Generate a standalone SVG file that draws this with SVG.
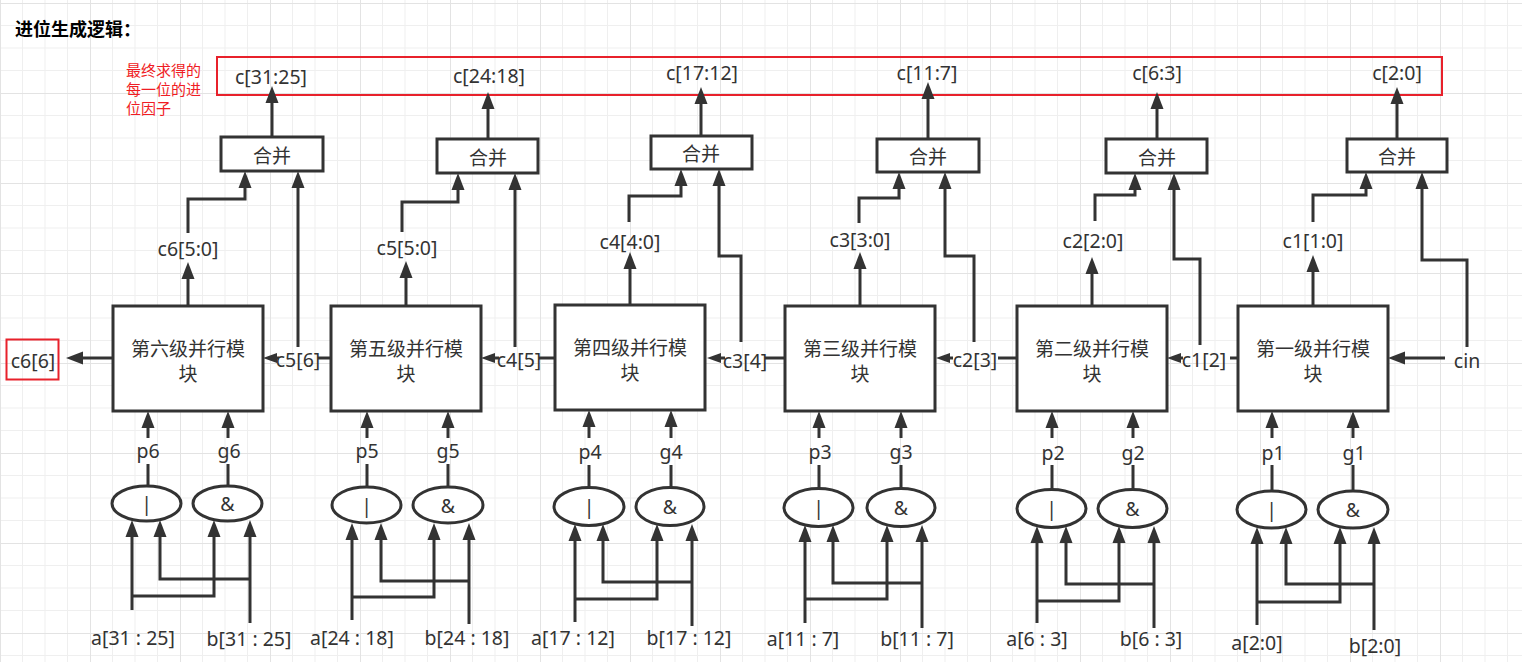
<svg xmlns="http://www.w3.org/2000/svg" width="1522" height="662" viewBox="0 0 1522 662">
<defs>
<style>
.ln{fill:none;stroke:#333;stroke-width:3}
.ah{fill:none;stroke:#333;stroke-width:3;marker-end:url(#ah)}
.as{fill:none;stroke:#333;stroke-width:3;marker-end:url(#as)}
.box{fill:#fff;stroke:#333;stroke-width:3}
.t{font-family:"Noto Sans","Noto Sans CJK SC",sans-serif;font-size:19.5px;fill:#333;text-anchor:middle;dominant-baseline:central}
.cn{font-family:"Noto Sans CJK SC","Noto Sans",sans-serif;font-size:19px;fill:#333;text-anchor:middle;dominant-baseline:central}
.red{fill:none;stroke:#e8212b;stroke-width:2}
</style>
<marker id="ah" markerUnits="userSpaceOnUse" markerWidth="18" markerHeight="14" viewBox="0 -7 18 14" refX="0" refY="0" orient="auto" overflow="visible"><path d="M0,-6.5L17,0L0,6.5Z" fill="#333"/></marker>
<marker id="as" markerUnits="userSpaceOnUse" markerWidth="15" markerHeight="12" viewBox="0 -6 15 12" refX="0" refY="0" orient="auto" overflow="visible"><path d="M0,-5L14,0L0,5Z" fill="#333"/></marker>
<pattern id="grid" width="90" height="90" patternUnits="userSpaceOnUse" x="0" y="3">
<path d="M22.5,0V90M45,0V90M67.5,0V90M0,22.5H90M0,45H90M0,67.5H90" stroke="#efefef" stroke-width="1" fill="none"/>
<path d="M0.5,0V90M0,0.5H90" stroke="#e3e3e3" stroke-width="1" fill="none"/>
</pattern>
</defs>
<rect width="1522" height="662" fill="#fff"/>
<rect width="1522" height="662" fill="url(#grid)"/>

<g id="title"><text x="15" y="28" font-family="Noto Sans CJK SC,sans-serif" font-size="18" font-weight="bold" fill="#000" dominant-baseline="central">进位生成逻辑：</text></g>
<g id="note" font-family="Noto Sans CJK SC,sans-serif" font-size="15" fill="#f01c24">
<text x="126" y="69" dominant-baseline="central">最终求得的</text>
<text x="126" y="88" dominant-baseline="central">每一位的进</text>
<text x="126" y="107" dominant-baseline="central">位因子</text>
</g>
<g id="result-box"><rect class="red" x="217" y="57" width="1225" height="38"/></g>

<g id="connectors">
<!-- stage 6 -->
<path class="ah" d="M272,137V103"/>
<path class="ah" d="M188,306V279"/>
<path class="ah" d="M188,233V199H245V188"/>
<path class="ah" d="M298,347V188"/>
<path class="ln" d="M331,358H318"/>
<path class="as" d="M279,358H277"/>
<path class="ah" d="M113,358H83"/>
<path class="ah" d="M148,438V428"/>
<path class="ah" d="M228,438V428"/>
<path class="ln" d="M148,486V464M228,486V464"/>
<path class="ah" d="M132,610V537"/>
<path class="ah" d="M132,596H214V537"/>
<path class="ah" d="M250,623V537"/>
<path class="ah" d="M250,579H160V537"/>
<!-- stage 5 -->
<path class="ah" d="M488,139V109"/>
<path class="ah" d="M406,306V278"/>
<path class="ah" d="M402,232V202H458V190"/>
<path class="ah" d="M515,347V190"/>
<path class="ln" d="M555,358H539"/>
<path class="as" d="M499,358H495"/>
<path class="ah" d="M367,438V428"/>
<path class="ah" d="M448,438V428"/>
<path class="ln" d="M367,487V464M448,487V464"/>
<path class="ah" d="M352,620V540"/>
<path class="ah" d="M352,597H434V540"/>
<path class="ah" d="M469,624V540"/>
<path class="ah" d="M469,581H381V540"/>
<!-- stage 4 -->
<path class="ah" d="M701,136V104"/>
<path class="ah" d="M630,305V269"/>
<path class="ah" d="M629,222V196H681V186"/>
<path class="ah" d="M741,342V256H719V186"/>
<path class="ln" d="M785,358H765"/>
<path class="as" d="M725,358H721"/>
<path class="ah" d="M589,438V427"/>
<path class="ah" d="M671,438V427"/>
<path class="ln" d="M589,487V465M671,487V465"/>
<path class="ah" d="M575,622V541"/>
<path class="ah" d="M575,599H657V541"/>
<path class="ah" d="M692,626V541"/>
<path class="ah" d="M692,582H603V541"/>
<!-- stage 3 -->
<path class="ah" d="M928,139V99"/>
<path class="ah" d="M860,306V269"/>
<path class="ah" d="M859,223V198H899V189"/>
<path class="ah" d="M974,342V256H945V189"/>
<path class="ln" d="M1017,358H998"/>
<path class="as" d="M953,358H950"/>
<path class="ah" d="M819,438V428"/>
<path class="ah" d="M901,438V428"/>
<path class="ln" d="M819,488V465M901,488V465"/>
<path class="ah" d="M805,623V542"/>
<path class="ah" d="M805,599H887V542"/>
<path class="ah" d="M922,628V542"/>
<path class="ah" d="M922,583H833V542"/>
<!-- stage 2 -->
<path class="ah" d="M1157,139V109"/>
<path class="ah" d="M1092,306V274"/>
<path class="ah" d="M1095,221V195H1135V190"/>
<path class="ah" d="M1200,345V259H1174V190"/>
<path class="ln" d="M1238,358H1230"/>
<path class="as" d="M1183,358H1181"/>
<path class="ah" d="M1052,438V428"/>
<path class="ah" d="M1133,438V428"/>
<path class="ln" d="M1052,489V465M1133,489V465"/>
<path class="ah" d="M1037,623V543"/>
<path class="ah" d="M1037,601H1119V543"/>
<path class="ah" d="M1154,628V543"/>
<path class="ah" d="M1154,584H1066V543"/>
<!-- stage 1 -->
<path class="ah" d="M1397,139V104"/>
<path class="ah" d="M1313,306V272"/>
<path class="ah" d="M1313,222V195H1366V189"/>
<path class="ah" d="M1467,347V260H1422V189"/>
<path class="ah" d="M1445,358H1405"/>
<path class="ah" d="M1272,438V428"/>
<path class="ah" d="M1353,438V428"/>
<path class="ln" d="M1272,491V465M1353,491V465"/>
<path class="ah" d="M1257,625V544"/>
<path class="ah" d="M1257,602H1340V544"/>
<path class="ah" d="M1374,630V544"/>
<path class="ah" d="M1374,584H1286V544"/>
</g>

<g id="top-labels">
<text class="t" x="271" y="76">c[31:25]</text>
<text class="t" x="489" y="75">c[24:18]</text>
<text class="t" x="702" y="72">c[17:12]</text>
<text class="t" x="927" y="72">c[11:7]</text>
<text class="t" x="1157" y="72">c[6:3]</text>
<text class="t" x="1397" y="72">c[2:0]</text>
</g>

<g id="merge6"><rect class="box" x="221" y="137" width="102" height="34"/><text class="cn" x="272" y="154">合并</text></g>
<g id="merge5"><rect class="box" x="437" y="139" width="101" height="34"/><text class="cn" x="488" y="156">合并</text></g>
<g id="merge4"><rect class="box" x="651" y="136" width="101" height="33"/><text class="cn" x="701" y="152.5">合并</text></g>
<g id="merge3"><rect class="box" x="877" y="139" width="102" height="33"/><text class="cn" x="928" y="155.5">合并</text></g>
<g id="merge2"><rect class="box" x="1106" y="139" width="101" height="34"/><text class="cn" x="1157" y="156">合并</text></g>
<g id="merge1"><rect class="box" x="1347" y="139" width="100" height="33"/><text class="cn" x="1397" y="155.5">合并</text></g>

<g id="out-labels">
<text class="t" x="188" y="248">c6[5:0]</text>
<text class="t" x="407" y="247">c5[5:0]</text>
<text class="t" x="630" y="241">c4[4:0]</text>
<text class="t" x="860" y="239">c3[3:0]</text>
<text class="t" x="1093" y="240">c2[2:0]</text>
<text class="t" x="1313" y="240">c1[1:0]</text>
</g>

<g id="carry-labels">
<text class="t" x="298" y="359">c5[6]</text>
<text class="t" x="519" y="359">c4[5]</text>
<text class="t" x="745" y="360">c3[4]</text>
<text class="t" x="975" y="359">c2[3]</text>
<text class="t" x="1204" y="359">c1[2]</text>
<text class="t" x="1467" y="360">cin</text>
</g>

<g id="c6-6"><rect class="red" x="6.5" y="339.5" width="52" height="40"/><text class="t" x="33" y="360">c6[6]</text></g>

<g id="block6"><rect class="box" x="113" y="306" width="150" height="105"/><text class="cn" x="188" y="347">第六级并行模</text><text class="cn" x="188" y="372">块</text></g>
<g id="block5"><rect class="box" x="331" y="306" width="150" height="105"/><text class="cn" x="406" y="347">第五级并行模</text><text class="cn" x="406" y="372">块</text></g>
<g id="block4"><rect class="box" x="555" y="305" width="150" height="105"/><text class="cn" x="630" y="346">第四级并行模</text><text class="cn" x="630" y="371">块</text></g>
<g id="block3"><rect class="box" x="785" y="306" width="150" height="105"/><text class="cn" x="860" y="347">第三级并行模</text><text class="cn" x="860" y="372">块</text></g>
<g id="block2"><rect class="box" x="1017" y="306" width="150" height="105"/><text class="cn" x="1092" y="347">第二级并行模</text><text class="cn" x="1092" y="372">块</text></g>
<g id="block1"><rect class="box" x="1238" y="306" width="150" height="105"/><text class="cn" x="1313" y="347">第一级并行模</text><text class="cn" x="1313" y="372">块</text></g>

<g id="pg-labels">
<text class="t" x="148" y="450">p6</text><text class="t" x="229" y="450">g6</text>
<text class="t" x="367" y="450">p5</text><text class="t" x="448" y="450">g5</text>
<text class="t" x="590" y="451">p4</text><text class="t" x="671" y="451">g4</text>
<text class="t" x="820" y="451">p3</text><text class="t" x="901" y="451">g3</text>
<text class="t" x="1053" y="452">p2</text><text class="t" x="1133" y="452">g2</text>
<text class="t" x="1273" y="452">p1</text><text class="t" x="1354" y="452">g1</text>
</g>

<g id="or6"><ellipse class="box" cx="146.5" cy="503.5" rx="34.5" ry="17.5"/><text class="t" x="146.5" y="503.5">|</text></g>
<g id="and6"><ellipse class="box" cx="227.5" cy="503.5" rx="34.5" ry="17.5"/><text class="t" x="227.5" y="503.5">&amp;</text></g>
<g id="or5"><ellipse class="box" cx="366.5" cy="505" rx="34.5" ry="18"/><text class="t" x="366.5" y="505">|</text></g>
<g id="and5"><ellipse class="box" cx="448" cy="505" rx="35" ry="18"/><text class="t" x="448" y="505">&amp;</text></g>
<g id="or4"><ellipse class="box" cx="589" cy="506.5" rx="35" ry="19"/><text class="t" x="589" y="506.5">|</text></g>
<g id="and4"><ellipse class="box" cx="670" cy="506.5" rx="34" ry="19"/><text class="t" x="670" y="506.5">&amp;</text></g>
<g id="or3"><ellipse class="box" cx="818.5" cy="507.5" rx="34.5" ry="19"/><text class="t" x="818.5" y="507.5">|</text></g>
<g id="and3"><ellipse class="box" cx="901" cy="507.5" rx="34" ry="19"/><text class="t" x="901" y="507.5">&amp;</text></g>
<g id="or2"><ellipse class="box" cx="1051.5" cy="508.5" rx="34.5" ry="19"/><text class="t" x="1051.5" y="508.5">|</text></g>
<g id="and2"><ellipse class="box" cx="1132.5" cy="508.5" rx="34.5" ry="19"/><text class="t" x="1132.5" y="508.5">&amp;</text></g>
<g id="or1"><ellipse class="box" cx="1271.5" cy="509.5" rx="34.5" ry="18.5"/><text class="t" x="1271.5" y="509.5">|</text></g>
<g id="and1"><ellipse class="box" cx="1353" cy="509.5" rx="35" ry="18.5"/><text class="t" x="1353" y="509.5">&amp;</text></g>

<g id="ab-labels">
<text class="t" x="133" y="637">a[31 : 25]</text><text class="t" x="249" y="638">b[31 : 25]</text>
<text class="t" x="352" y="637">a[24 : 18]</text><text class="t" x="467" y="637">b[24 : 18]</text>
<text class="t" x="573" y="637">a[17 : 12]</text><text class="t" x="689" y="637">b[17 : 12]</text>
<text class="t" x="803" y="638">a[11 : 7]</text><text class="t" x="917" y="638">b[11 : 7]</text>
<text class="t" x="1037" y="638">a[6 : 3]</text><text class="t" x="1151" y="638">b[6 : 3]</text>
<text class="t" x="1257" y="642">a[2:0]</text><text class="t" x="1375" y="645">b[2:0]</text>
</g>
</svg>
